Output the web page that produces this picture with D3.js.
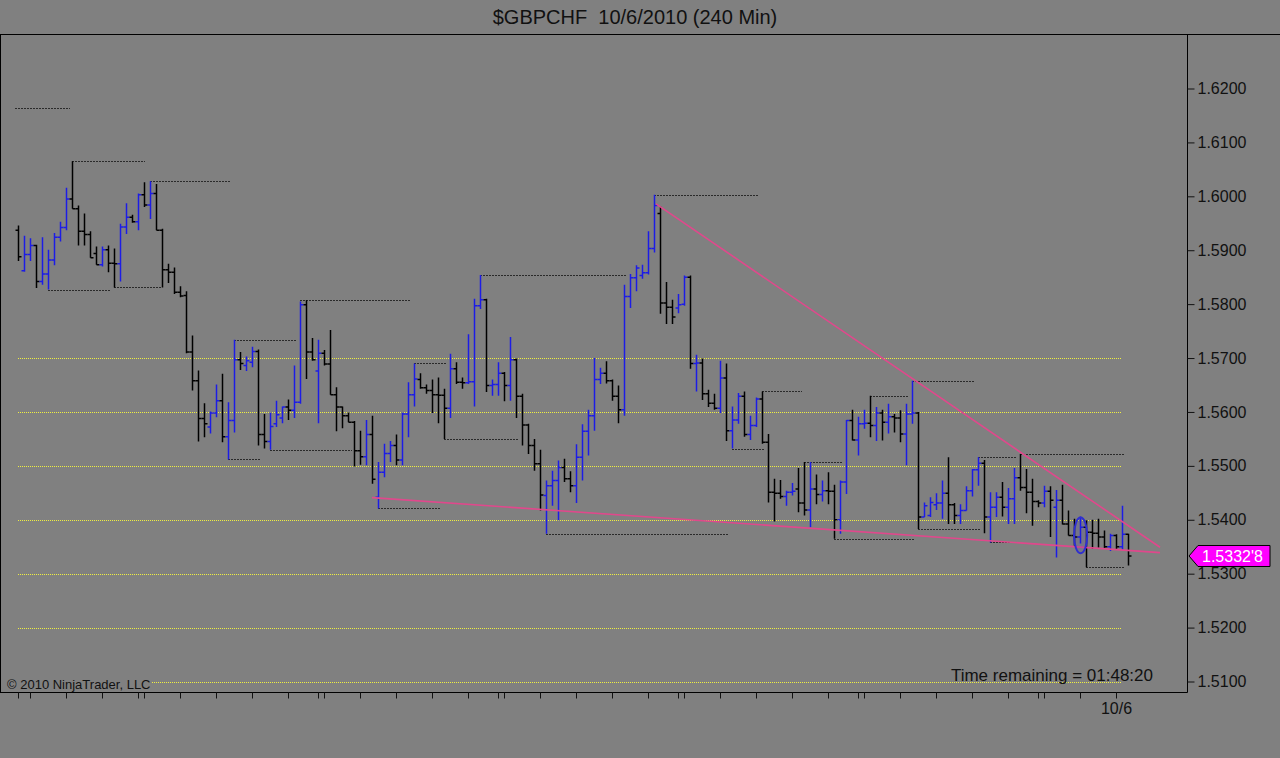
<!DOCTYPE html>
<html>
<head>
<meta charset="utf-8">
<script src="https://cdn.jsdelivr.net/npm/d3@7"></script>
<style>
  html, body { margin: 0; padding: 0; background: #808080; }
  svg { display: block; }
  text { font-family: Arial, 'Liberation Sans', sans-serif; }
</style>
</head>
<body>
<svg id="chart" width="1280" height="758"></svg>
<script>
const symbol = '$GBPCHF'
const period = '10/6/2010 (240 Min)'

// 240 min bars, oldest first
const opens = [
  1.5937, 1.5862, 1.5892, 1.5909, 1.5842, 1.5856, 1.5882, 1.5924, 1.5942, 1.5995,
  1.5977, 1.5935, 1.5929, 1.5894, 1.5873, 1.5901, 1.5876, 1.5875, 1.5943, 1.5961,
  1.5953, 1.6003, 1.5984, 1.6005, 1.5937, 1.5864, 1.5859, 1.5822, 1.5816, 1.5711,
  1.5658, 1.5588, 1.5572, 1.5598, 1.5621, 1.5554, 1.5584, 1.5697, 1.5686, 1.5692,
  1.5712, 1.5558, 1.5545, 1.5578, 1.5589, 1.5609, 1.5603, 1.5618, 1.5799, 1.5711,
  1.5676, 1.5709, 1.5689, 1.5632, 1.5609, 1.5593, 1.5581, 1.5528, 1.5517, 1.5558,
  1.5442, 1.5488, 1.5523, 1.5538, 1.5511, 1.5596, 1.5632, 1.5660, 1.5645, 1.5640,
  1.5632, 1.5631, 1.5607, 1.5680, 1.5655, 1.5654, 1.5656, 1.5797, 1.5808, 1.5649,
  1.5651, 1.5672, 1.5649, 1.5697, 1.5629, 1.5576, 1.5538, 1.5504, 1.5445, 1.5463,
  1.5473, 1.5497, 1.5476, 1.5463, 1.5516, 1.5564, 1.5593, 1.5660, 1.5672, 1.5658,
  1.5629, 1.5604, 1.5814, 1.5849, 1.5853, 1.5858, 1.5903, 1.5968, 1.5802, 1.5794,
  1.5793, 1.5800, 1.5850, 1.5690, 1.5691, 1.5634, 1.5616, 1.5607, 1.5663, 1.5565,
  1.5585, 1.5629, 1.5558, 1.5575, 1.5624, 1.5544, 1.5451, 1.5449, 1.5443, 1.5451,
  1.5457, 1.5431, 1.5418, 1.5457, 1.5447, 1.5454, 1.5453, 1.5400, 1.5470, 1.5584,
  1.5548, 1.5578, 1.5579, 1.5575, 1.5598, 1.5581, 1.5591, 1.5589, 1.5559, 1.5596,
  1.5598, 1.5405, 1.5408, 1.5428, 1.5431, 1.5449, 1.5428, 1.5408, 1.5417, 1.5454,
  1.5493, 1.5505, 1.5405, 1.5423, 1.5442, 1.5423, 1.5439, 1.5478, 1.5460, 1.5451,
  1.5434, 1.5431, 1.5453, 1.5423, 1.5436, 1.5392, 1.5371, 1.5368, 1.5386, 1.5377,
  1.5375, 1.5368, 1.5350, 1.5371, 1.5350, 1.5373
]
const highs = [
  1.5946, 1.5927, 1.5922, 1.5910, 1.5924, 1.5901, 1.5932, 1.5953, 1.6016, 1.6065,
  1.5983, 1.5968, 1.5935, 1.5907, 1.5907, 1.5909, 1.5903, 1.5949, 1.5987, 1.5966,
  1.6005, 1.6026, 1.6028, 1.6023, 1.5940, 1.5875, 1.5868, 1.5833, 1.5824, 1.5742,
  1.5677, 1.5616, 1.5601, 1.5651, 1.5671, 1.5618, 1.5734, 1.5711, 1.5703, 1.5721,
  1.5716, 1.5596, 1.5599, 1.5621, 1.5610, 1.5623, 1.5686, 1.5805, 1.5807, 1.5737,
  1.5734, 1.5715, 1.5752, 1.5646, 1.5610, 1.5599, 1.5583, 1.5565, 1.5585, 1.5593,
  1.5507, 1.5541, 1.5546, 1.5558, 1.5599, 1.5655, 1.5690, 1.5672, 1.5651, 1.5660,
  1.5664, 1.5643, 1.5708, 1.5692, 1.5664, 1.5744, 1.5810, 1.5854, 1.5810, 1.5660,
  1.5692, 1.5674, 1.5739, 1.5699, 1.5634, 1.5578, 1.5550, 1.5530, 1.5473, 1.5491,
  1.5510, 1.5513, 1.5490, 1.5540, 1.5577, 1.5604, 1.5700, 1.5682, 1.5694, 1.5660,
  1.5649, 1.5836, 1.5856, 1.5872, 1.5873, 1.5935, 1.6003, 1.5981, 1.5841, 1.5808,
  1.5819, 1.5853, 1.5853, 1.5706, 1.5699, 1.5641, 1.5634, 1.5695, 1.5690, 1.5610,
  1.5635, 1.5638, 1.5593, 1.5627, 1.5638, 1.5559, 1.5476, 1.5474, 1.5454, 1.5468,
  1.5496, 1.5507, 1.5507, 1.5484, 1.5473, 1.5488, 1.5465, 1.5473, 1.5585, 1.5604,
  1.5591, 1.5604, 1.5630, 1.5609, 1.5604, 1.5615, 1.5596, 1.5603, 1.5615, 1.5658,
  1.5600, 1.5432, 1.5442, 1.5449, 1.5473, 1.5516, 1.5431, 1.5429, 1.5462, 1.5494,
  1.5516, 1.5511, 1.5451, 1.5451, 1.5470, 1.5459, 1.5496, 1.5522, 1.5494, 1.5476,
  1.5436, 1.5463, 1.5462, 1.5455, 1.5465, 1.5417, 1.5402, 1.5406, 1.5399, 1.5400,
  1.5402, 1.5380, 1.5374, 1.5373, 1.5426, 1.5374
]
const lows = [
  1.5880, 1.5860, 1.5880, 1.5830, 1.5836, 1.5827, 1.5872, 1.5916, 1.5937, 1.5977,
  1.5909, 1.5909, 1.5886, 1.5873, 1.5870, 1.5859, 1.5831, 1.5842, 1.5930, 1.5951,
  1.5937, 1.5980, 1.5958, 1.5937, 1.5831, 1.5839, 1.5819, 1.5813, 1.5709, 1.5640,
  1.5545, 1.5553, 1.5560, 1.5590, 1.5544, 1.5512, 1.5562, 1.5678, 1.5676, 1.5683,
  1.5538, 1.5532, 1.5530, 1.5572, 1.5579, 1.5585, 1.5589, 1.5615, 1.5661, 1.5695,
  1.5579, 1.5686, 1.5632, 1.5564, 1.5570, 1.5581, 1.5499, 1.5502, 1.5501, 1.5467,
  1.5421, 1.5479, 1.5507, 1.5501, 1.5501, 1.5553, 1.5610, 1.5643, 1.5634, 1.5598,
  1.5579, 1.5550, 1.5589, 1.5652, 1.5643, 1.5652, 1.5610, 1.5791, 1.5637, 1.5630,
  1.5630, 1.5620, 1.5621, 1.5589, 1.5538, 1.5522, 1.5491, 1.5417, 1.5374, 1.5426,
  1.5399, 1.5470, 1.5451, 1.5431, 1.5473, 1.5519, 1.5565, 1.5652, 1.5653, 1.5621,
  1.5579, 1.5593, 1.5793, 1.5824, 1.5847, 1.5855, 1.5896, 1.5782, 1.5763, 1.5763,
  1.5783, 1.5797, 1.5680, 1.5638, 1.5622, 1.5609, 1.5604, 1.5598, 1.5546, 1.5532,
  1.5578, 1.5554, 1.5548, 1.5572, 1.5541, 1.5432, 1.5397, 1.5439, 1.5426, 1.5445,
  1.5414, 1.5408, 1.5386, 1.5429, 1.5434, 1.5429, 1.5365, 1.5374, 1.5448, 1.5547,
  1.5519, 1.5569, 1.5553, 1.5546, 1.5547, 1.5560, 1.5562, 1.5544, 1.5501, 1.5578,
  1.5383, 1.5405, 1.5405, 1.5418, 1.5402, 1.5392, 1.5392, 1.5392, 1.5417, 1.5443,
  1.5463, 1.5375, 1.5358, 1.5405, 1.5406, 1.5392, 1.5392, 1.5454, 1.5412, 1.5389,
  1.5423, 1.5423, 1.5368, 1.5330, 1.5391, 1.5371, 1.5352, 1.5356, 1.5312, 1.5346,
  1.5348, 1.5346, 1.5342, 1.5346, 1.5344, 1.5315
]
const closes = [
  1.5888, 1.5892, 1.5909, 1.5842, 1.5856, 1.5882, 1.5924, 1.5942, 1.5995, 1.5977,
  1.5935, 1.5929, 1.5886, 1.5873, 1.5901, 1.5876, 1.5875, 1.5943, 1.5961, 1.5953,
  1.6003, 1.5984, 1.6005, 1.5937, 1.5864, 1.5859, 1.5822, 1.5815, 1.5711, 1.5658,
  1.5588, 1.5578, 1.5598, 1.5621, 1.5554, 1.5584, 1.5697, 1.5690, 1.5695, 1.5712,
  1.5558, 1.5545, 1.5573, 1.5595, 1.5609, 1.5603, 1.5618, 1.5799, 1.5711, 1.5697,
  1.5709, 1.5689, 1.5632, 1.5609, 1.5593, 1.5581, 1.5528, 1.5517, 1.5558, 1.5475,
  1.5488, 1.5523, 1.5538, 1.5511, 1.5596, 1.5632, 1.5661, 1.5645, 1.5640, 1.5632,
  1.5631, 1.5607, 1.5680, 1.5655, 1.5654, 1.5656, 1.5797, 1.5808, 1.5649, 1.5651,
  1.5672, 1.5649, 1.5697, 1.5629, 1.5576, 1.5538, 1.5504, 1.5446, 1.5463, 1.5473,
  1.5497, 1.5476, 1.5463, 1.5516, 1.5564, 1.5593, 1.5660, 1.5672, 1.5658, 1.5629,
  1.5604, 1.5814, 1.5849, 1.5867, 1.5858, 1.5903, 1.5983, 1.5802, 1.5794, 1.5776,
  1.5799, 1.5850, 1.5690, 1.5691, 1.5634, 1.5616, 1.5607, 1.5663, 1.5565, 1.5585,
  1.5629, 1.5558, 1.5575, 1.5624, 1.5544, 1.5451, 1.5449, 1.5443, 1.5451, 1.5453,
  1.5431, 1.5418, 1.5457, 1.5447, 1.5454, 1.5453, 1.5400, 1.5470, 1.5584, 1.5548,
  1.5578, 1.5579, 1.5575, 1.5598, 1.5581, 1.5591, 1.5589, 1.5559, 1.5596, 1.5598,
  1.5405, 1.5426, 1.5432, 1.5431, 1.5449, 1.5428, 1.5408, 1.5417, 1.5454, 1.5493,
  1.5505, 1.5405, 1.5423, 1.5442, 1.5423, 1.5439, 1.5478, 1.5460, 1.5451, 1.5434,
  1.5431, 1.5453, 1.5436, 1.5436, 1.5392, 1.5371, 1.5368, 1.5386, 1.5377, 1.5375,
  1.5368, 1.5350, 1.5371, 1.5350, 1.5373, 1.53328
]

const priceTicks = [1.51, 1.52, 1.53, 1.54, 1.55, 1.56, 1.57, 1.58, 1.59, 1.60, 1.61, 1.62]
const gridLevels = [1.57, 1.56, 1.55, 1.54, 1.53, 1.52, 1.51]
// bar index of each session start tick on the time axis
const dayTicks = [0, 2, 8, 14, 20, 21, 27, 33, 39, 45, 50, 51, 57, 63, 69, 75, 80, 81, 87, 93,
  99, 105, 110, 111, 117, 123, 129, 135, 140, 141, 147, 153, 159, 165, 170, 171, 177, 183]
const dayLabels = { 183: '10/6' }

// swing high / low lines: start bar, end bar, price
const swingStart = [-0.5, 9, 22, 5, 16, 36, 35, 47, 42, 66, 71, 77, 60, 88, 106, 119, 124, 131, 136, 142, 149, 150, 160, 167, 162, 178]
const swingEnd = [8.7, 21.2, 35.3, 15.3, 24, 46.5, 40.3, 65.3, 55.7, 71.5, 83.3, 101.5, 70.3, 118.3, 123.3, 124.5, 130.7, 137.5, 149.5, 148.3, 159.5, 160.3, 166.5, 184.5, 165.3, 184.5]
const swingPrice = [1.6163, 1.6065, 1.6028, 1.5827, 1.5831, 1.5734, 1.5512, 1.5807, 1.5530, 1.5690, 1.5550, 1.5854, 1.5421, 1.5374, 1.6003, 1.5532, 1.5638, 1.5507, 1.5365, 1.5630, 1.5658, 1.5383, 1.5516, 1.5522, 1.5358, 1.5312]

// hand drawn trend lines: [bar, price]
const trendUpper = [[106.33, 1.5986], [190.33, 1.5349]]
const trendLower = [[59, 1.5441], [190.33, 1.5339]]
// ellipse marker: centre bar, centre price, half width in bars, half height in price
const marker = [177.1, 1.5371, 1.1, 0.0033]

const lastLabel = "1.5332'8"
const timeRemaining = 'Time remaining = 01:48:20'
const copyright = '\u00a9 2010 NinjaTrader, LLC'

const W = 1280
const H = 758
const svg = d3.select('#chart')

const x = d3.scaleLinear().domain([0, 185]).range([18, 1128])
const y = d3.scaleLinear().domain([1.51, 1.62]).range([681.5, 88.5])
const frameRight = 1187.5
const frameTop = 34.5
const frameBottom = 692.5
const snap = v => Math.round(v) + 0.5

svg.append('rect').attr('width', W).attr('height', H).attr('fill', '#808080')

// title
svg.append('text')
  .attr('x', 635).attr('y', 24)
  .attr('text-anchor', 'middle')
  .style('font-size', '20px')
  .style('white-space', 'pre')
  .attr('fill', '#111')
  .text(symbol + '  ' + period)

// yellow price levels
svg.append('g').selectAll('line')
  .data(gridLevels)
  .enter().append('line')
  .attr('x1', Math.round(x(0))).attr('x2', Math.round(x(184)))
  .attr('y1', d => snap(y(d))).attr('y2', d => snap(y(d)))
  .attr('stroke', '#f0f040')
  .attr('stroke-width', 1)
  .attr('stroke-dasharray', '1,1')
  .attr('shape-rendering', 'crispEdges')

// swing lines
svg.append('g').selectAll('line')
  .data(swingPrice)
  .enter().append('line')
  .attr('x1', (d, i) => Math.round(x(swingStart[i]))).attr('x2', (d, i) => Math.round(x(swingEnd[i])))
  .attr('y1', d => snap(y(d))).attr('y2', d => snap(y(d)))
  .attr('stroke', '#2a2a2a')
  .attr('stroke-width', 1)
  .attr('stroke-dasharray', '2,1')
  .attr('shape-rendering', 'crispEdges')

// OHLC bars
const bars = d3.range(opens.length)
svg.append('g').selectAll('path')
  .data(bars)
  .enter().append('path')
  .attr('d', i => {
    const cx = Math.round(x(i)) + 0.5
    return 'M' + cx + ',' + y(highs[i]) + 'V' + y(lows[i]) +
      'M' + (cx - 3) + ',' + y(opens[i]) + 'H' + cx +
      'M' + cx + ',' + y(closes[i]) + 'H' + (cx + 3)
  })
  .attr('fill', 'none')
  .attr('stroke', i => closes[i] > opens[i] ? '#1c1ce6' : '#000')
  .attr('stroke-width', 1.5)

// trend lines
const trend = d3.line().x(d => x(d[0])).y(d => y(d[1]))
svg.append('g').selectAll('path')
  .data([trendUpper, trendLower])
  .enter().append('path')
  .attr('d', trend)
  .attr('fill', 'none')
  .attr('stroke', '#e0488c')
  .attr('stroke-width', 1.6)

// ellipse marker
svg.append('ellipse')
  .attr('cx', x(marker[0]))
  .attr('cy', y(marker[1]))
  .attr('rx', x(marker[2]) - x(0))
  .attr('ry', y(1.51) - y(1.51 + marker[3]))
  .attr('fill', 'rgba(40,40,200,0.12)')
  .attr('stroke', '#2f2fd0')
  .attr('stroke-width', 2)

// frame
const frame = svg.append('g').attr('stroke', '#000').attr('stroke-width', 1)
frame.append('line').attr('x1', 0).attr('x2', W).attr('y1', frameTop).attr('y2', frameTop)
frame.append('line').attr('x1', 0.5).attr('x2', 0.5).attr('y1', frameTop).attr('y2', frameBottom)
frame.append('line').attr('x1', frameRight).attr('x2', frameRight).attr('y1', frameTop).attr('y2', frameBottom)
frame.append('line').attr('x1', 0).attr('x2', frameRight).attr('y1', frameBottom).attr('y2', frameBottom)

// price axis
const yAxis = svg.append('g')
  .attr('transform', 'translate(' + frameRight + ',0)')
  .style('color', '#111')
  .call(d3.axisRight(y).tickValues(priceTicks).tickSize(7).tickPadding(3).tickFormat(d3.format('.4f')))
yAxis.select('.domain').remove()
yAxis.selectAll('text').style('font-size', '16px')

// time axis
const xAxis = svg.append('g')
  .attr('transform', 'translate(0,' + frameBottom + ')')
  .style('color', '#111')
  .call(d3.axisBottom(x).tickValues(dayTicks).tickSize(6).tickPadding(4).tickFormat(d => dayLabels[d] || ''))
xAxis.select('.domain').remove()
xAxis.selectAll('text').style('font-size', '16px')

// copyright and timer
svg.append('rect').attr('x', 5).attr('y', 677).attr('width', 147).attr('height', 14).attr('fill', '#808080')
svg.append('text')
  .attr('x', 7).attr('y', 689)
  .attr('fill', '#111')
  .style('font-size', '13px')
  .text(copyright)
svg.append('text')
  .attr('x', 1153).attr('y', 681)
  .attr('text-anchor', 'end')
  .attr('fill', '#111')
  .style('font-size', '17px')
  .text(timeRemaining)

// last price tag
const ly = y(closes[closes.length - 1])
svg.append('path')
  .attr('d', 'M' + (frameRight + 1.5) + ',' + ly + 'L1198,' + (ly - 10.5) + 'H1270V' + (ly + 10.5) + 'H1198Z')
  .attr('fill', '#ff00ff')
  .attr('stroke', '#000')
  .attr('stroke-width', 1)
svg.append('text')
  .attr('x', 1202).attr('y', ly + 6)
  .attr('fill', '#fff')
  .style('font-size', '16px')
  .text(lastLabel)
</script>
</body>
</html>
